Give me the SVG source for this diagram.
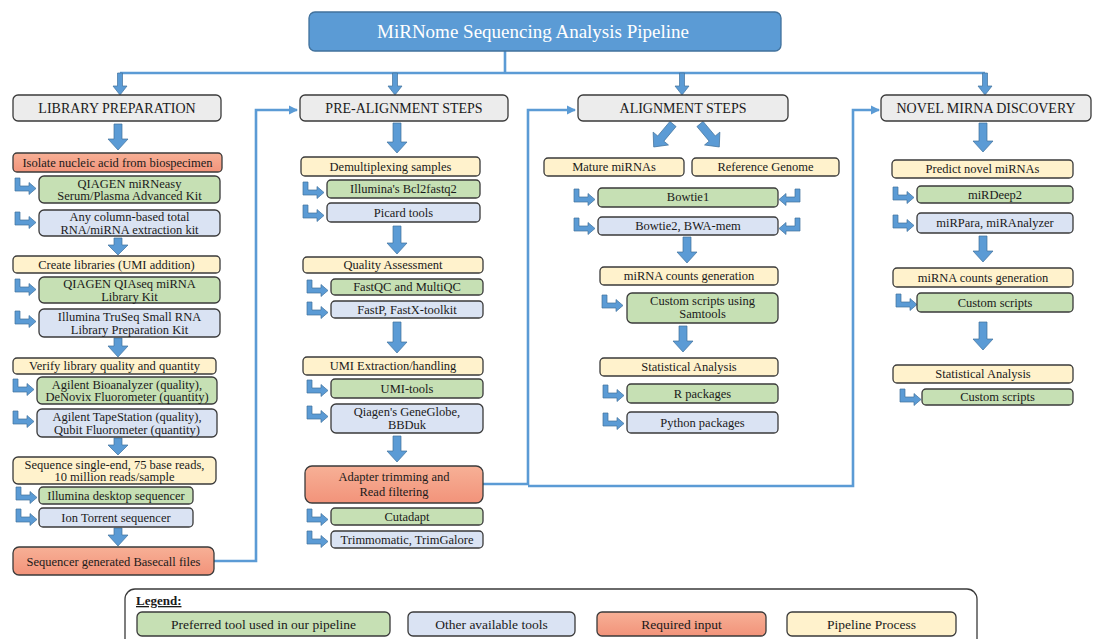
<svg xmlns="http://www.w3.org/2000/svg" width="1103" height="639" viewBox="0 0 1103 639">
<style>
.box{stroke:#3a3a3a;stroke-width:1.3}
.h{fill:#ececec}
.g{fill:#c6e0b4}
.b{fill:#dae3f3}
.r{fill:url(#sal)}
.y{fill:#fff2cc}
text{font-family:"Liberation Serif","Times New Roman",Tinos,"DejaVu Serif",serif}
.t{font-size:12.5px;text-anchor:middle;fill:#1a1a1a}
.hd{font-size:14px;text-anchor:middle;fill:#1a1a1a}
.lg{font-size:13.5px;text-anchor:middle;fill:#1a1a1a}
.arr{fill:#5b9bd5;stroke:#41719c;stroke-width:0.7}
.con{fill:none;stroke:#5b9bd5;stroke-width:2.6}
</style>
<defs>
<linearGradient id="sal" x1="0" y1="0" x2="0" y2="1">
<stop offset="0" stop-color="#f7b096"/>
<stop offset="1" stop-color="#f2937a"/>
</linearGradient>
<marker id="ah" markerWidth="10" markerHeight="10" refX="8" refY="5" orient="auto" markerUnits="userSpaceOnUse">
<path d="M0,0.5 L9,5 L0,9.5 Z" fill="#5b9bd5"/>
</marker>
<path id="bent" d="M0,0 H5 V8 H14 V4.5 L21,10.5 L14,16.5 V13 H0 Z"/>
</defs>

<g id="connectors">
<path class="con" d="M505,51 V73 M120,73 H985"/>
<polygon class="arr" points="117.5,73 122.5,73 122.5,86 127,86 120,95 113,86 117.5,86"/>
<polygon class="arr" points="392.5,73 397.5,73 397.5,86 402,86 395,95 388,86 392.5,86"/>
<polygon class="arr" points="679.5,73 684.5,73 684.5,86 689,86 682,95 675,86 679.5,86"/>
<polygon class="arr" points="982.5,73 987.5,73 987.5,86 992,86 985,95 978,86 982.5,86"/>
<path class="con" d="M214,561 H256 V110 H297" marker-end="url(#ah)"/>
<path class="con" d="M483,484 H528 V110 H575" marker-end="url(#ah)"/>
<path class="con" d="M528,486 H853 V110 H879" marker-end="url(#ah)"/>

<polygon class="arr" points="114,124 122,124 122,139 128,139 118,150 108,139 114,139"/>
<polygon class="arr" points="114,238 122,238 122,245 128,245 118,255 108,245 114,245"/>
<polygon class="arr" points="114,338 122,338 122,346 128,346 118,357 108,346 114,346"/>
<polygon class="arr" points="114,438 122,438 122,445 128,445 118,455 108,445 114,445"/>
<polygon class="arr" points="114,528 122,528 122,535 128,535 118,546 108,535 114,535"/>

<polygon class="arr" points="393,123 401,123 401,142 407,142 397,153 387,142 393,142"/>
<polygon class="arr" points="393,226 401,226 401,243 407,243 397,254 387,243 393,243"/>
<polygon class="arr" points="393,322 401,322 401,342 407,342 397,353 387,342 393,342"/>
<polygon class="arr" points="393,436 401,436 401,451 407,451 397,462 387,451 393,451"/>

<polygon class="arr" points="683,237 691,237 691,252 697,252 687,263 677,252 683,252"/>
<polygon class="arr" points="679,326 687,326 687,341 693,341 683,352 673,341 679,341"/>

<polygon class="arr" points="979,123 987,123 987,141 993,141 983,152 973,141 979,141"/>
<polygon class="arr" points="979,236 987,236 987,251 993,251 983,262 973,251 979,251"/>
<polygon class="arr" points="979,322 987,322 987,339 993,339 983,350 973,339 979,339"/>

<g transform="translate(673,124) rotate(40)"><polygon class="arr" points="-4,0 4,0 4,19 10,19 0,30 -10,19 -4,19"/></g>
<g transform="translate(700,124) rotate(-40)"><polygon class="arr" points="-4,0 4,0 4,19 10,19 0,30 -10,19 -4,19"/></g>

<use href="#bent" class="arr" x="15" y="178"/>
<use href="#bent" class="arr" x="15" y="212"/>
<use href="#bent" class="arr" x="15" y="279"/>
<use href="#bent" class="arr" x="15" y="311"/>
<use href="#bent" class="arr" x="13" y="379"/>
<use href="#bent" class="arr" x="13" y="411"/>
<use href="#bent" class="arr" x="16" y="487"/>
<use href="#bent" class="arr" x="16" y="509"/>

<use href="#bent" class="arr" x="303" y="182"/>
<use href="#bent" class="arr" x="303" y="205"/>
<use href="#bent" class="arr" x="307" y="280"/>
<use href="#bent" class="arr" x="307" y="302"/>
<use href="#bent" class="arr" x="307" y="380"/>
<use href="#bent" class="arr" x="307" y="406"/>
<use href="#bent" class="arr" x="307" y="509"/>
<use href="#bent" class="arr" x="307" y="531"/>

<use href="#bent" class="arr" x="574" y="189"/>
<use href="#bent" class="arr" x="574" y="218"/>
<g transform="translate(800,189) scale(-1,1)"><use href="#bent" class="arr"/></g>
<g transform="translate(800,218) scale(-1,1)"><use href="#bent" class="arr"/></g>
<use href="#bent" class="arr" x="602" y="295"/>
<use href="#bent" class="arr" x="603" y="385"/>
<use href="#bent" class="arr" x="603" y="413"/>

<use href="#bent" class="arr" x="893" y="187"/>
<use href="#bent" class="arr" x="893" y="215"/>
<use href="#bent" class="arr" x="896" y="294"/>
<use href="#bent" class="arr" x="900" y="389"/>
</g>

<g id="title">
<rect x="309" y="12" width="472" height="39" rx="6" fill="#5b9bd5" stroke="#41719c" stroke-width="1.3"/>
<text x="533" y="38" font-size="19" text-anchor="middle" fill="#ffffff">MiRNome Sequencing Analysis Pipeline</text>
</g>

<g id="lib-header"><rect class="box h" x="13" y="95" width="208" height="26" rx="5"/><text class="hd" x="117" y="113">LIBRARY PREPARATION</text></g>
<g id="isolate"><rect class="box r" x="13" y="153" width="209" height="19" rx="4"/><text class="t" x="117.5" y="166.5">Isolate nucleic acid from biospecimen</text></g>
<g id="mirneasy"><rect class="box g" x="39" y="176" width="181" height="27" rx="5"/><text class="t" x="129.5" y="187.5">QIAGEN miRNeasy</text><text class="t" x="129.5" y="200">Serum/Plasma Advanced Kit</text></g>
<g id="columnkit"><rect class="box b" x="39" y="210" width="181" height="26" rx="5"/><text class="t" x="129.5" y="221">Any column-based total</text><text class="t" x="129.5" y="233.5">RNA/miRNA extraction kit</text></g>
<g id="create"><rect class="box y" x="13" y="256" width="207" height="17" rx="4"/><text class="t" x="116.5" y="268.5">Create libraries (UMI addition)</text></g>
<g id="qiaseq"><rect class="box g" x="39" y="277" width="181" height="26" rx="5"/><text class="t" x="129.5" y="288">QIAGEN QIAseq miRNA</text><text class="t" x="129.5" y="300.5">Library Kit</text></g>
<g id="truseq"><rect class="box b" x="39" y="309" width="181" height="28" rx="5"/><text class="t" x="129.5" y="320.5">Illumina TruSeq Small RNA</text><text class="t" x="129.5" y="333.5">Library Preparation Kit</text></g>
<g id="verify"><rect class="box y" x="13" y="358" width="203" height="16" rx="4"/><text class="t" x="114.5" y="370">Verify library quality and quantity</text></g>
<g id="bioanalyzer"><rect class="box g" x="37" y="377" width="180" height="27" rx="5"/><text class="t" x="127" y="388.5">Agilent Bioanalyzer (quality),</text><text class="t" x="127" y="401">DeNovix Fluorometer (quantity)</text></g>
<g id="tapestation"><rect class="box b" x="37" y="409" width="180" height="28" rx="5"/><text class="t" x="127" y="420.5">Agilent TapeStation (quality),</text><text class="t" x="127" y="433.5">Qubit Fluorometer (quantity)</text></g>
<g id="sequence"><rect class="box y" x="13" y="457" width="203" height="27" rx="5"/><text class="t" x="114.5" y="468.5">Sequence single-end, 75 base reads,</text><text class="t" x="114.5" y="481">10 million reads/sample</text></g>
<g id="illumina-desktop"><rect class="box g" x="39" y="487" width="154" height="17" rx="4"/><text class="t" x="116" y="499.5">Illumina desktop sequencer</text></g>
<g id="iontorrent"><rect class="box b" x="39" y="508" width="154" height="19" rx="4"/><text class="t" x="116" y="521.5">Ion Torrent sequencer</text></g>
<g id="basecall"><rect class="box r" x="13" y="547" width="201" height="28" rx="6"/><text class="t" x="113.5" y="565.5">Sequencer generated Basecall files</text></g>

<g id="pre-header"><rect class="box h" x="300" y="95" width="208" height="26" rx="5"/><text class="hd" x="404" y="113">PRE-ALIGNMENT STEPS</text></g>
<g id="demux"><rect class="box y" x="301" y="157" width="179" height="19" rx="4"/><text class="t" x="390.5" y="170.5">Demultiplexing samples</text></g>
<g id="bcl2fastq"><rect class="box g" x="327" y="180" width="153" height="18" rx="4"/><text class="t" x="403.5" y="193">Illumina's Bcl2fastq2</text></g>
<g id="picard"><rect class="box b" x="327" y="203" width="153" height="19" rx="4"/><text class="t" x="403.5" y="216.5">Picard tools</text></g>
<g id="quality"><rect class="box y" x="303" y="257" width="180" height="16" rx="4"/><text class="t" x="393" y="269">Quality Assessment</text></g>
<g id="fastqc"><rect class="box g" x="331" y="279" width="152" height="16" rx="4"/><text class="t" x="407" y="291">FastQC and MultiQC</text></g>
<g id="fastp"><rect class="box b" x="331" y="301" width="152" height="17" rx="4"/><text class="t" x="407" y="313.5">FastP, FastX-toolkit</text></g>
<g id="umi"><rect class="box y" x="303" y="357" width="180" height="18" rx="4"/><text class="t" x="393" y="370">UMI Extraction/handling</text></g>
<g id="umitools"><rect class="box g" x="331" y="379" width="152" height="19" rx="4"/><text class="t" x="407" y="392.5">UMI-tools</text></g>
<g id="geneglobe"><rect class="box b" x="331" y="404" width="152" height="29" rx="5"/><text class="t" x="407" y="415.5">Qiagen's GeneGlobe,</text><text class="t" x="407" y="428.5">BBDuk</text></g>
<g id="adapter"><rect class="box r" x="305" y="466" width="178" height="37" rx="7"/><text class="t" x="394" y="481">Adapter trimming and</text><text class="t" x="394" y="496">Read filtering</text></g>
<g id="cutadapt"><rect class="box g" x="331" y="508" width="152" height="17" rx="4"/><text class="t" x="407" y="521">Cutadapt</text></g>
<g id="trimmomatic"><rect class="box b" x="331" y="531" width="152" height="17" rx="4"/><text class="t" x="407" y="544">Trimmomatic, TrimGalore</text></g>

<g id="align-header"><rect class="box h" x="578" y="95" width="210" height="26" rx="5"/><text class="hd" x="683" y="113">ALIGNMENT STEPS</text></g>
<g id="mature"><rect class="box y" x="544" y="158" width="140" height="18" rx="4"/><text class="t" x="614" y="171">Mature miRNAs</text></g>
<g id="refgenome"><rect class="box y" x="692" y="158" width="147" height="18" rx="4"/><text class="t" x="765.5" y="171">Reference Genome</text></g>
<g id="bowtie1"><rect class="box g" x="598" y="188" width="180" height="19" rx="4"/><text class="t" x="688" y="201">Bowtie1</text></g>
<g id="bowtie2"><rect class="box b" x="598" y="217" width="180" height="18" rx="4"/><text class="t" x="688" y="230">Bowtie2, BWA-mem</text></g>
<g id="counts3"><rect class="box y" x="600" y="267" width="178" height="18" rx="4"/><text class="t" x="689" y="280">miRNA counts generation</text></g>
<g id="samtools"><rect class="box g" x="627" y="293" width="151" height="30" rx="5"/><text class="t" x="702.5" y="305">Custom scripts using</text><text class="t" x="702.5" y="318">Samtools</text></g>
<g id="stat3"><rect class="box y" x="600" y="358" width="178" height="18" rx="4"/><text class="t" x="689" y="371">Statistical Analysis</text></g>
<g id="rpackages"><rect class="box g" x="627" y="384" width="151" height="19" rx="4"/><text class="t" x="702.5" y="397.5">R packages</text></g>
<g id="python"><rect class="box b" x="627" y="412" width="151" height="21" rx="4"/><text class="t" x="702.5" y="426.5">Python packages</text></g>

<g id="novel-header"><rect class="box h" x="881" y="95" width="210" height="26" rx="5"/><text class="hd" x="986" y="113">NOVEL MIRNA DISCOVERY</text></g>
<g id="predict"><rect class="box y" x="892" y="160" width="181" height="18" rx="4"/><text class="t" x="982.5" y="173">Predict novel miRNAs</text></g>
<g id="mirdeep2"><rect class="box g" x="917" y="186" width="156" height="17" rx="4"/><text class="t" x="995" y="198.5">miRDeep2</text></g>
<g id="mirpara"><rect class="box b" x="917" y="213" width="156" height="20" rx="4"/><text class="t" x="995" y="227">miRPara, miRAnalyzer</text></g>
<g id="counts4"><rect class="box y" x="893" y="268" width="180" height="19" rx="4"/><text class="t" x="983" y="281.5">miRNA counts generation</text></g>
<g id="custom4a"><rect class="box g" x="917" y="293" width="156" height="19" rx="4"/><text class="t" x="995" y="306.5">Custom scripts</text></g>
<g id="stat4"><rect class="box y" x="893" y="365" width="180" height="18" rx="4"/><text class="t" x="983" y="378">Statistical Analysis</text></g>
<g id="custom4b"><rect class="box g" x="922" y="389" width="151" height="16" rx="4"/><text class="t" x="997.5" y="401">Custom scripts</text></g>

<g id="legend">
<rect x="125" y="589" width="852" height="60" rx="10" fill="#ffffff" stroke="#3a3a3a" stroke-width="1.3"/>
<text x="136" y="605" font-size="13" font-weight="bold" text-decoration="underline" fill="#1a1a1a">Legend:</text>
<rect class="box g" x="137" y="612" width="253" height="24" rx="5"/><text class="lg" x="263.5" y="628.5">Preferred tool used in our pipeline</text>
<rect class="box b" x="408" y="612" width="167" height="24" rx="5"/><text class="lg" x="491.5" y="628.5">Other available tools</text>
<rect class="box r" x="597" y="612" width="169" height="24" rx="5"/><text class="lg" x="681.5" y="628.5">Required input</text>
<rect class="box y" x="787" y="612" width="169" height="24" rx="5"/><text class="lg" x="871.5" y="628.5">Pipeline Process</text>
</g>
</svg>
